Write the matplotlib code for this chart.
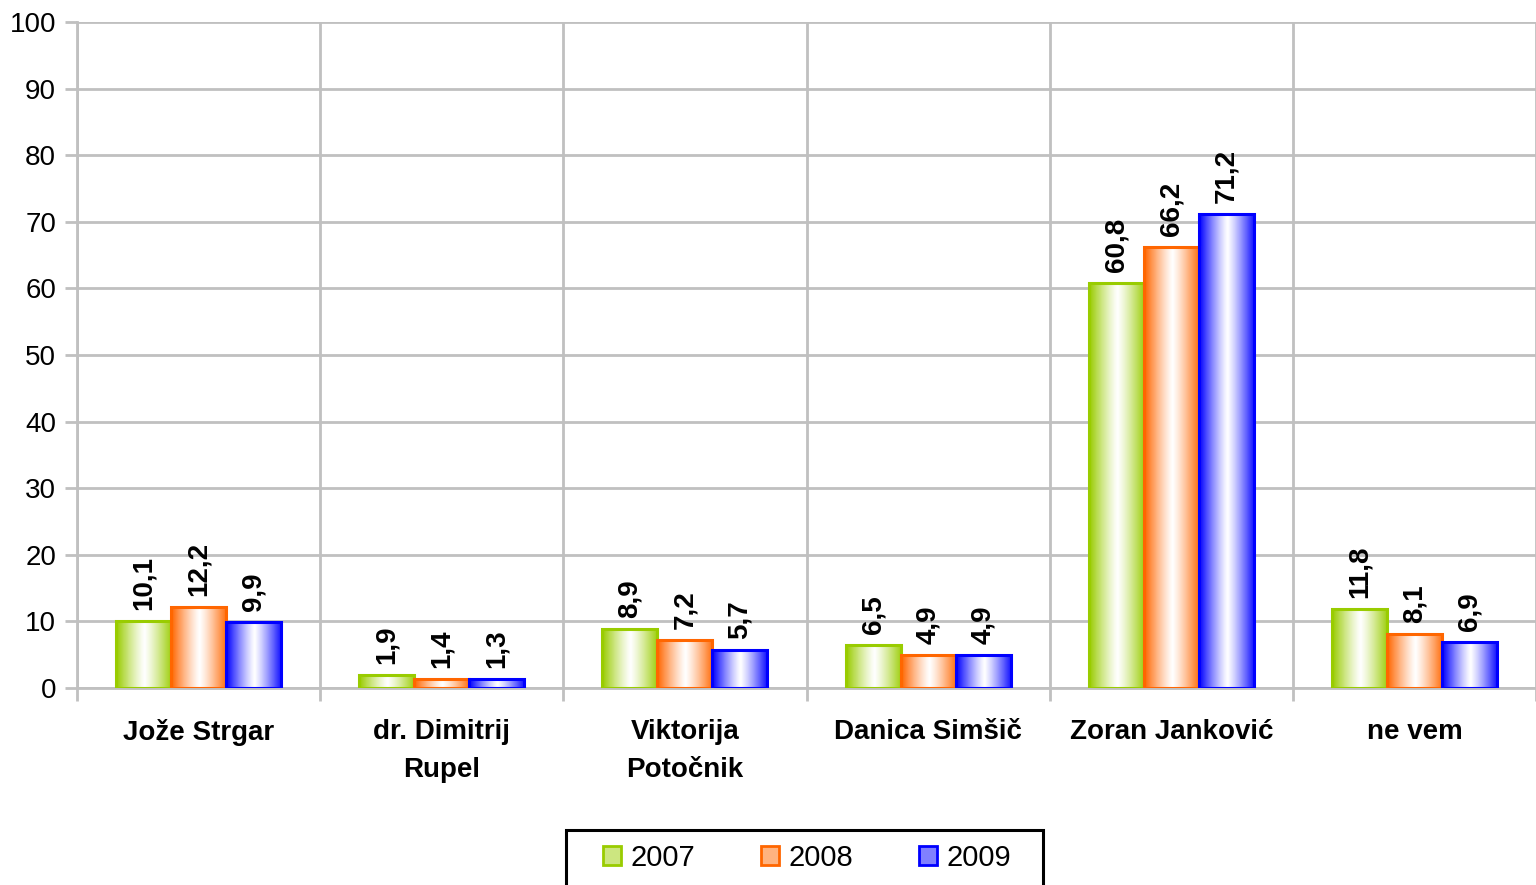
import numpy as np
import matplotlib
matplotlib.use("Agg")
import matplotlib.pyplot as plt
from matplotlib.patches import Patch, Rectangle
from matplotlib.colors import to_rgb

categories = ["Jože Strgar", "dr. Dimitrij\nRupel", "Viktorija\nPotočnik",
              "Danica Simšič", "Zoran Janković", "ne vem"]
years = ["2007", "2008", "2009"]
v2007 = [10.1, 1.9, 8.9, 6.5, 60.8, 11.8]
v2008 = [12.2, 1.4, 7.2, 4.9, 66.2, 8.1]
v2009 = [9.9, 1.3, 5.7, 4.9, 71.2, 6.9]
colors = ["#99CC00", "#FF6600", "#0000FF"]

plt.rcParams['font.family'] = ['Liberation Sans', 'DejaVu Sans']

W, H = 1536, 885
fig = plt.figure(figsize=(W / 100, H / 100), dpi=100)
ax = fig.add_axes([77 / W, 1 - 688 / H, 1 - 77 / W, (688 - 22) / H])

grid_col = "#C0C0C0"
x = np.arange(len(categories))
w = 0.226


def gradient(color):
    c = np.array(to_rgb(color))
    t = np.linspace(0, 1, 64)
    # edges coloured, white near the middle
    k = np.abs(t - 0.52) / 0.52
    k = np.clip(k, 0, 1) ** 1.2
    img = 1 - (1 - c)[None, :] * k[:, None]
    return img[None, :, :]


for i, (vals, col) in enumerate(zip([v2007, v2008, v2009], colors)):
    bars = ax.bar(x + (i - 1) * w, vals, w, facecolor="none", edgecolor=col,
                  linewidth=2.2, zorder=4)
    for b, v in zip(bars, vals):
        x0, y0 = b.get_x(), b.get_y()
        ax.imshow(gradient(col), extent=(x0, x0 + b.get_width(), y0, y0 + b.get_height()),
                  aspect="auto", zorder=3, interpolation="bilinear")
        ax.annotate(f"{v:.1f}".replace(".", ","), (b.get_x() + b.get_width() / 2, v),
                    xytext=(0, 8), textcoords="offset points", rotation=90,
                    ha="center", va="bottom", fontsize=20, fontweight="bold", zorder=5)

ax.set_xlim(-0.5, len(categories) - 0.5)
ax.set_ylim(0, 100)
ax.set_yticks(np.arange(0, 101, 10))
ax.set_xticks(x)
ax.set_xticklabels(categories, fontsize=20, fontweight="bold", linespacing=1.6)
ax.set_xticks(np.arange(-0.5, len(categories), 1), minor=True)
ax.tick_params(axis="x", which="major", length=0, pad=22)
ax.tick_params(axis="x", which="minor", length=9, width=2, color=grid_col)
ax.tick_params(axis="y", length=9, width=2, color=grid_col, labelsize=20, pad=6)
ax.grid(axis="y", color=grid_col, linewidth=2, zorder=0)
ax.grid(axis="x", which="minor", color=grid_col, linewidth=2, zorder=0)
ax.set_axisbelow(True)
for s in ["top", "right"]:
    ax.spines[s].set_visible(False)
for s in ["left", "bottom"]:
    ax.spines[s].set_color(grid_col)
    ax.spines[s].set_linewidth(2)

handles = [Patch(facecolor=tuple(0.5 + 0.5 * np.array(to_rgb(c))), edgecolor=c,
                 linewidth=2, label=y) for c, y in zip(colors, years)]
leg = fig.legend(handles=handles, loc="center left", bbox_to_anchor=(603 / W, 1 - 858 / H),
                 ncol=3, fontsize=21, frameon=False,
                 handlelength=0.6, handleheight=0.6, handletextpad=0.35, columnspacing=2.25,
                 borderpad=0, borderaxespad=0)
fig.patches.append(Rectangle((566 / W, 1 - 887 / H), (1043 - 566) / W, (887 - 830) / H,
                             transform=fig.transFigure, fill=False, edgecolor="black",
                             linewidth=2.2))

fig.savefig("out.png", dpi=100)
